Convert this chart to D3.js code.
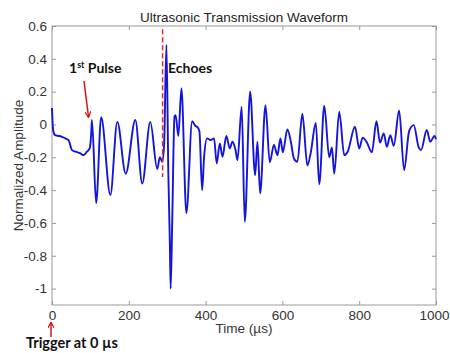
<!DOCTYPE html>
<html>
<head>
<meta charset="utf-8">
<script src="https://cdn.jsdelivr.net/npm/d3@7/dist/d3.min.js"></script>
<style>
  html, body { margin: 0; padding: 0; background: #fff; }
  svg { display: block; }
</style>
</head>
<body>
<svg id="chart" width="450" height="353"></svg>
<script>
// ---- data ----
const timeUs = [0, 3, 8, 26, 35, 43, 52, 61, 74, 82, 91, 98, 102, 104,
  115, 128, 152, 170, 192, 217, 235, 256, 274, 281, 287, 292, 298,
  303, 307, 309, 313, 319, 322, 329, 337, 350, 365, 372, 380, 384, 391, 396,
  404, 413, 422, 429, 437, 444, 454, 463, 470, 478, 483, 494, 502, 516,
  529, 535, 542, 556, 567, 578, 587, 595, 601, 613, 622, 630, 639, 652,
  665, 674, 687, 696, 709, 722, 729, 735, 748, 761, 770, 789, 800, 809,
  820, 833, 845, 854, 864, 872, 881, 890, 904, 917, 930, 942, 955, 961,
  976, 985, 996, 1000];
const amplitude = [0.10, -0.035, -0.065, -0.075, -0.085, -0.095, -0.156, -0.166, -0.176, -0.187, -0.166, -0.146, -0.06, 0.027,
  -0.48, 0.045, -0.43, 0.016, -0.30, 0.027, -0.36, 0.016, -0.27, -0.20, -0.227, -0.12, 0.484,
  -0.30, -0.73, -1.0, -0.60, 0.05, 0.057, -0.07, 0.22, -0.54, 0.02, -0.005, -0.02, -0.044, -0.40, -0.20,
  -0.085, -0.095, -0.085, -0.237, -0.116, -0.197, -0.07, -0.146, -0.105, -0.156, -0.217, 0.108, -0.593, 0.20,
  -0.31, -0.105, -0.42, 0.118, -0.23, -0.125, -0.187, -0.085, -0.17, -0.03, -0.105, -0.207, -0.227, 0.065,
  -0.25, -0.17, 0.01, -0.365, 0.115, -0.20, -0.14, -0.30, 0.078, -0.187, -0.166, -0.014, -0.146, -0.08,
  -0.11, -0.17, 0.02, -0.11, -0.054, -0.136, -0.065, -0.13, 0.085, -0.278, -0.04, -0.004, -0.14, -0.156,
  -0.034, -0.105, -0.07, -0.09];

const xTicks = [0, 200, 400, 600, 800, 1000];
const yTicks = [-1, -0.8, -0.6, -0.4, -0.2, 0, 0.2, 0.4, 0.6];
const xDomain = [0, 1000];
const yDomain = [-1.1, 0.6];

const titleText = "Ultrasonic Transmission Waveform";
const xLabel = "Time (\u00b5s)";
const yLabel = "Normalized Amplitude";
const echoTime = 288;          // dashed marker position (µs)
const echoSpan = [-0.32, 0.58];
const pulseLabel = ["1", "st", " Pulse"];
const echoLabel = "Echoes";
const triggerLabel = "Trigger at 0 \u00b5s";

(function () {
  const svg = d3.select("#chart");
  const pL = 52, pR = 436, pT = 26, pB = 305;
  const x = d3.scaleLinear().domain(xDomain).range([pL, pR]);
  const y = d3.scaleLinear().domain(yDomain).range([pB, pT]);

  const axisColor = "#9a9a9a";
  const textColor = "#333";
  const font = "'Liberation Sans', Arial, sans-serif";
  const boldFont = "Lato, 'Open Sans', sans-serif";
  const red = "#e01010";

  svg.append("rect")
    .attr("x", pL).attr("y", pT)
    .attr("width", pR - pL).attr("height", pB - pT)
    .attr("fill", "none").attr("stroke", axisColor).attr("stroke-width", 1);

  function styleAxis(size) {
    return function (g) {
      g.select(".domain").remove();
      g.selectAll(".tick line").attr("stroke", axisColor);
      g.selectAll(".tick text").attr("fill", textColor)
        .style("font-family", font).style("font-size", size);
    };
  }

  const xAxisG = svg.append("g").attr("transform", `translate(0,${pB})`)
    .call(d3.axisBottom(x).tickValues(xTicks).tickFormat(d3.format("d")).tickSizeInner(-4).tickSizeOuter(0).tickPadding(5))
    .call(styleAxis("13.5px"));
  // keep the last label inside the canvas
  xAxisG.selectAll(".tick text").filter(d => d === xDomain[1])
    .attr("text-anchor", "end").attr("x", 449 - pR);
  svg.append("g").attr("transform", `translate(0,${pT})`)
    .call(d3.axisTop(x).tickValues(xTicks).tickFormat("").tickSizeInner(-4).tickSizeOuter(0))
    .call(styleAxis("13px"));
  svg.append("g").attr("transform", `translate(${pL},0)`)
    .call(d3.axisLeft(y).tickValues(yTicks).tickFormat(d => String(+d.toFixed(1))).tickSizeInner(-4).tickSizeOuter(0).tickPadding(5))
    .call(styleAxis("13.5px"));
  svg.append("g").attr("transform", `translate(${pR},0)`)
    .call(d3.axisRight(y).tickValues(yTicks).tickFormat("").tickSizeInner(-4).tickSizeOuter(0))
    .call(styleAxis("13px"));

  // waveform
  const pts = timeUs.map((t, i) => [t, amplitude[i]]);
  svg.append("path")
    .datum(pts)
    .attr("fill", "none")
    .attr("stroke", "#1414dc")
    .attr("stroke-width", 1.9)
    .attr("stroke-linejoin", "round")
    .attr("d", d3.line().x(d => x(d[0])).y(d => y(d[1])).curve(d3.curveMonotoneX));

  // dashed echo marker
  svg.append("line")
    .attr("x1", x(echoTime)).attr("x2", x(echoTime))
    .attr("y1", y(echoSpan[1])).attr("y2", y(echoSpan[0]))
    .attr("stroke", "#d8263a").attr("stroke-width", 1.5)
    .attr("stroke-dasharray", "5,3");

  // title & axis labels
  svg.append("text").attr("x", (pL + pR) / 2).attr("y", 22)
    .attr("text-anchor", "middle").attr("fill", "#222")
    .style("font-family", font).style("font-size", "13.5px").text(titleText);
  svg.append("text").attr("x", (pL + pR) / 2).attr("y", 333)
    .attr("text-anchor", "middle").attr("fill", textColor)
    .style("font-family", font).style("font-size", "13.5px").text(xLabel);
  svg.append("text")
    .attr("transform", `translate(23,${(pT + pB) / 2}) rotate(-90)`)
    .attr("text-anchor", "middle").attr("fill", textColor)
    .style("font-family", font).style("font-size", "13.5px").text(yLabel);

  // arrow marker
  const defs = svg.append("defs");
  defs.append("marker").attr("id", "arrowRed")
    .attr("viewBox", "0 0 10 10").attr("refX", 9).attr("refY", 5)
    .attr("markerWidth", 6).attr("markerHeight", 6).attr("orient", "auto")
    .attr("markerUnits", "userSpaceOnUse")
    .append("path").attr("d", "M0,0 L10,5 L0,10").attr("fill", "none").attr("stroke", red).attr("stroke-width", 2);

  // 1st pulse annotation
  const pt = svg.append("text").attr("x", 69).attr("y", 73)
    .attr("fill", "#111").style("font-family", boldFont).style("font-weight", "bold").style("font-size", "14px");
  pt.append("tspan").text(pulseLabel[0]);
  pt.append("tspan").attr("dy", -5).style("font-size", "9px").text(pulseLabel[1]);
  pt.append("tspan").attr("dy", 5).text(pulseLabel[2]);
  svg.append("line").attr("x1", 84).attr("y1", 81).attr("x2", 88.5).attr("y2", 117)
    .attr("stroke", red).attr("stroke-width", 1.5).attr("marker-end", "url(#arrowRed)");

  // echoes annotation
  svg.append("text").attr("x", 168).attr("y", 73)
    .attr("fill", "#111").style("font-family", boldFont).style("font-weight", "bold").style("font-size", "14px")
    .text(echoLabel);

  // trigger annotation
  svg.append("line").attr("x1", x(0) - 1).attr("y1", 337).attr("x2", x(0) - 1).attr("y2", 322.5)
    .attr("stroke", red).attr("stroke-width", 1.5).attr("marker-end", "url(#arrowRed)");
  svg.append("text").attr("x", 26).attr("y", 348)
    .attr("fill", "#111").style("font-family", boldFont).style("font-weight", "bold").style("font-size", "14.5px")
    .text(triggerLabel);
})();
</script>
</body>
</html>
